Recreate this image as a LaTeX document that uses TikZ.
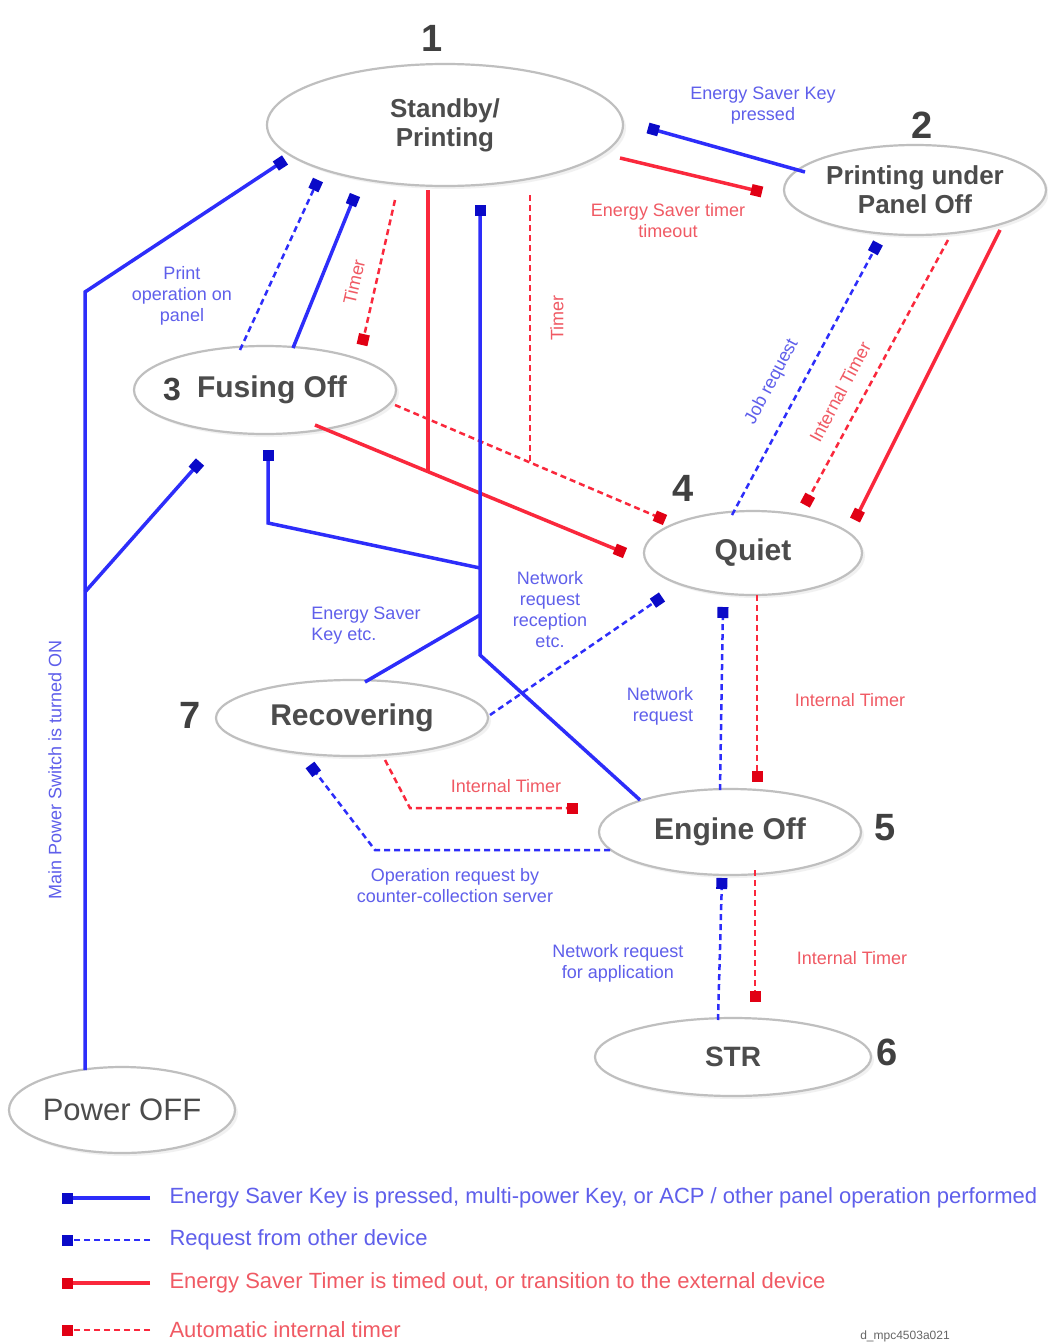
\documentclass[tikz,border=0pt]{standalone}
\usepackage{fontspec}
\setmainfont{Liberation Sans}
\usetikzlibrary{shapes.geometric,arrows.meta,shadows}
\definecolor{lblue}{RGB}{45,45,250}
\definecolor{dblue}{RGB}{10,10,200}
\definecolor{tblue}{RGB}{95,95,235}
\definecolor{lred}{RGB}{250,40,60}
\definecolor{dred}{RGB}{225,0,20}
\definecolor{tred}{RGB}{240,90,100}
\begin{document}
\begin{tikzpicture}[x=1pt,y=-1pt,
  state/.style={ellipse,draw=black!25,line width=2.2pt,fill=white,inner sep=0pt,
     drop shadow={shadow xshift=3pt,shadow yshift=-3pt,fill=black!10},
     font=\fontsize{26}{29}\selectfont\bfseries,text=black!70,align=center},
  big/.style={font=\fontsize{30}{32}\selectfont\bfseries},
  num/.style={font=\fontsize{38}{40}\selectfont\bfseries,text=black!75},
  bsol/.style={draw=lblue,line width=3.5pt},
  bdash/.style={draw=lblue,line width=2.5pt,dash pattern=on 6pt off 4pt},
  rsol/.style={draw=lred,line width=3.5pt},
  rdash/.style={draw=lred,line width=2.5pt,dash pattern=on 6pt off 4pt},
  btip/.style={-{Square[length=11pt,width=11pt,color=dblue]}},
  rtip/.style={-{Square[length=11pt,width=11pt,color=dred]}},
  blab/.style={font=\fontsize{18}{21}\selectfont,text=tblue,align=center},
  rlab/.style={font=\fontsize{18}{21}\selectfont,text=tred,align=center},
  leg/.style={font=\fontsize{22}{25}\selectfont,anchor=west}
]
\useasboundingbox (0,0) rectangle (1047,1344);
\fill[white] (0,0) rectangle (1047,1344);

% states
\node[state,minimum width=356pt,minimum height=122pt] (n1) at (445,125) {Standby/\\Printing};
\node[state,minimum width=262pt,minimum height=90pt] (n2) at (915,190) {Printing under\\Panel Off};
\node[state,big,minimum width=262pt,minimum height=88pt] (n3) at (265,390) {\hspace*{14pt}Fusing Off};
\node[state,big,minimum width=218pt,minimum height=84pt] (n4) at (753,553) {Quiet};
\node[state,big,minimum width=262pt,minimum height=86pt] (n5) at (730,832) {Engine Off};
\node[state,minimum width=276pt,minimum height=78pt,font=\fontsize{28}{30}\selectfont\bfseries] (n6) at (733,1057) {STR};
\node[state,big,minimum width=272pt,minimum height=76pt] (n7) at (352,718) {Recovering};
\node[state,minimum width=226pt,minimum height=86pt,font=\fontsize{31}{33}\selectfont] (npo) at (122,1110) {Power OFF};

% numbers
\node[num] (k1) at (432,38) {1};
\node[num] (k2) at (922,125) {2};
\node[num,font=\fontsize{32}{34}\selectfont\bfseries] (k3) at (172,390) {3};
\node[num] (k4) at (683,488) {4};
\node[num] (k5) at (885,828) {5};
\node[num] (k6) at (887,1052) {6};
\node[num] (k7) at (190,715) {7};

% junction coordinates
\coordinate (j1) at (85,292);
\coordinate (j2) at (85,592);
\coordinate (j3) at (428,472);
\coordinate (j4) at (530,462);
\coordinate (j5) at (480,655);
\coordinate (j6) at (480,568);
\coordinate (j7) at (480,615);
\coordinate (c1) at (268,523);
\coordinate (c2) at (410,808);
\coordinate (c3) at (375,850);

% connectors
\draw[bsol,btip] ([shift={(-110,-18)}]n2.center) -- ([shift={(203,3)}]n1.center);
\draw[rsol,rtip] ([shift={(175,33)}]n1.center) -- ([shift={(-153,2)}]n2.center);
\draw[bsol,btip] ([shift={(-37,-40)}]npo.center) -- (j1) -- ([shift={(-160,35)}]n1.center);
\draw[bsol,btip] (j2) -- ([shift={(-65,72)}]n3.center);
\draw[bdash,btip] ([shift={(-25,-40)}]n3.center) -- ([shift={(-127,55)}]n1.center);
\draw[bsol,btip] ([shift={(28,-42)}]n3.center) -- ([shift={(-90,70)}]n1.center);
\draw[rdash,rtip] ([shift={(-50,75)}]n1.center) -- ([shift={(97,-45)}]n3.center);
\draw[rsol] ([shift={(-17,65)}]n1.center) -- (j3);
\draw[rsol,rtip] ([shift={(50,35)}]n3.center) -- ([shift={(-128,0)}]n4.center);
\draw[rdash] ([shift={(85,70)}]n1.center) -- (j4);
\draw[rdash,rtip] ([shift={(130,15)}]n3.center) -- ([shift={(-88,-33)}]n4.center);
\draw[bsol,btip] ([shift={(-90,-32)}]n5.center) -- (j5) -- ([shift={(35,80)}]n1.center);
\draw[bsol,btip] (j6) -- (c1) -- ([shift={(3,60)}]n3.center);
\draw[bsol] (j7) -- ([shift={(13,-36)}]n7.center);
\draw[bdash,btip] ([shift={(138,-3)}]n7.center) -- ([shift={(-91,44)}]n4.center);
\draw[bdash,btip] ([shift={(-21,-38)}]n4.center) -- ([shift={(-37,53)}]n2.center);
\draw[rdash,rtip] ([shift={(33,50)}]n2.center) -- ([shift={(52,-48)}]n4.center);
\draw[rsol,rtip] ([shift={(85,40)}]n2.center) -- ([shift={(102,-33)}]n4.center);
\draw[bdash,btip] ([shift={(-10,-42)}]n5.center) -- ([shift={(-30,54)}]n4.center);
\draw[rdash,rtip] ([shift={(4,42)}]n4.center) -- ([shift={(27,-50)}]n5.center);
\draw[rdash,rtip] ([shift={(33,42)}]n7.center) -- (c2) -- ([shift={(-152,-24)}]n5.center);
\draw[bdash,btip] ([shift={(-120,18)}]n5.center) -- (c3) -- ([shift={(-42,47)}]n7.center);
\draw[bdash,btip] ([shift={(-15,-37)}]n6.center) -- ([shift={(-8,46)}]n5.center);
\draw[rdash,rtip] ([shift={(25,38)}]n5.center) -- ([shift={(22,-55)}]n6.center);

% labels
\node[blab] (t1) at (763,106) {Energy Saver Key\\pressed};
\node[rlab] (t2) at (668,221) {Energy Saver timer\\timeout};
\node[blab] (t3) at (182,296) {Print\\operation on\\panel};
\node[rlab,rotate=77] (t4) at (354,282) {Timer};
\node[rlab,rotate=90] (t5) at (557,318) {Timer};
\node[blab,align=left] (t6) at (366,626) {Energy Saver\\Key etc.};
\node[blab] (t7) at (550,610) {Network\\request\\reception\\etc.};
\node[blab,rotate=62] (t8) at (772,382) {Job request};
\node[rlab,rotate=62] (t9) at (840,392) {Internal Timer};
\node[blab,align=right] (t10) at (660,706) {Network\\request};
\node[rlab] (t11) at (850,700) {Internal Timer};
\node[rlab] (t12) at (506,786) {Internal Timer};
\node[blab] (t13) at (455,886) {Operation request by\\counter-collection server};
\node[blab] (t14) at (618,963) {Network request\\for application};
\node[rlab] (t15) at (852,958) {Internal Timer};
\node[blab,rotate=90] (t16) at (55,770) {Main Power Switch is turned ON};

% legend
\coordinate (la1) at (150,1198); \coordinate (lb1) at (62,1198);
\coordinate (la2) at (150,1240); \coordinate (lb2) at (62,1240);
\coordinate (la3) at (150,1283); \coordinate (lb3) at (62,1283);
\coordinate (la4) at (150,1330); \coordinate (lb4) at (62,1330);
\draw[bsol,btip] (la1) -- (lb1);
\draw[bdash,btip] (la2) -- (lb2);
\draw[rsol,rtip] (la3) -- (lb3);
\draw[rdash,rtip] (la4) -- (lb4);
\node[leg,text=tblue] (g1) at (166,1198) {Energy Saver Key is pressed, multi-power Key, or ACP / other panel operation performed};
\node[leg,text=tblue] (g2) at (166,1240) {Request from other device};
\node[leg,text=tred] (g3) at (166,1283) {Energy Saver Timer is timed out, or transition to the external device};
\node[leg,text=tred] (g4) at (166,1330) {Automatic internal timer};
\node[font=\fontsize{12}{14}\selectfont,text=black!60] (gid) at (905,1336) {d\_mpc4503a021};
\end{tikzpicture}
\end{document}
